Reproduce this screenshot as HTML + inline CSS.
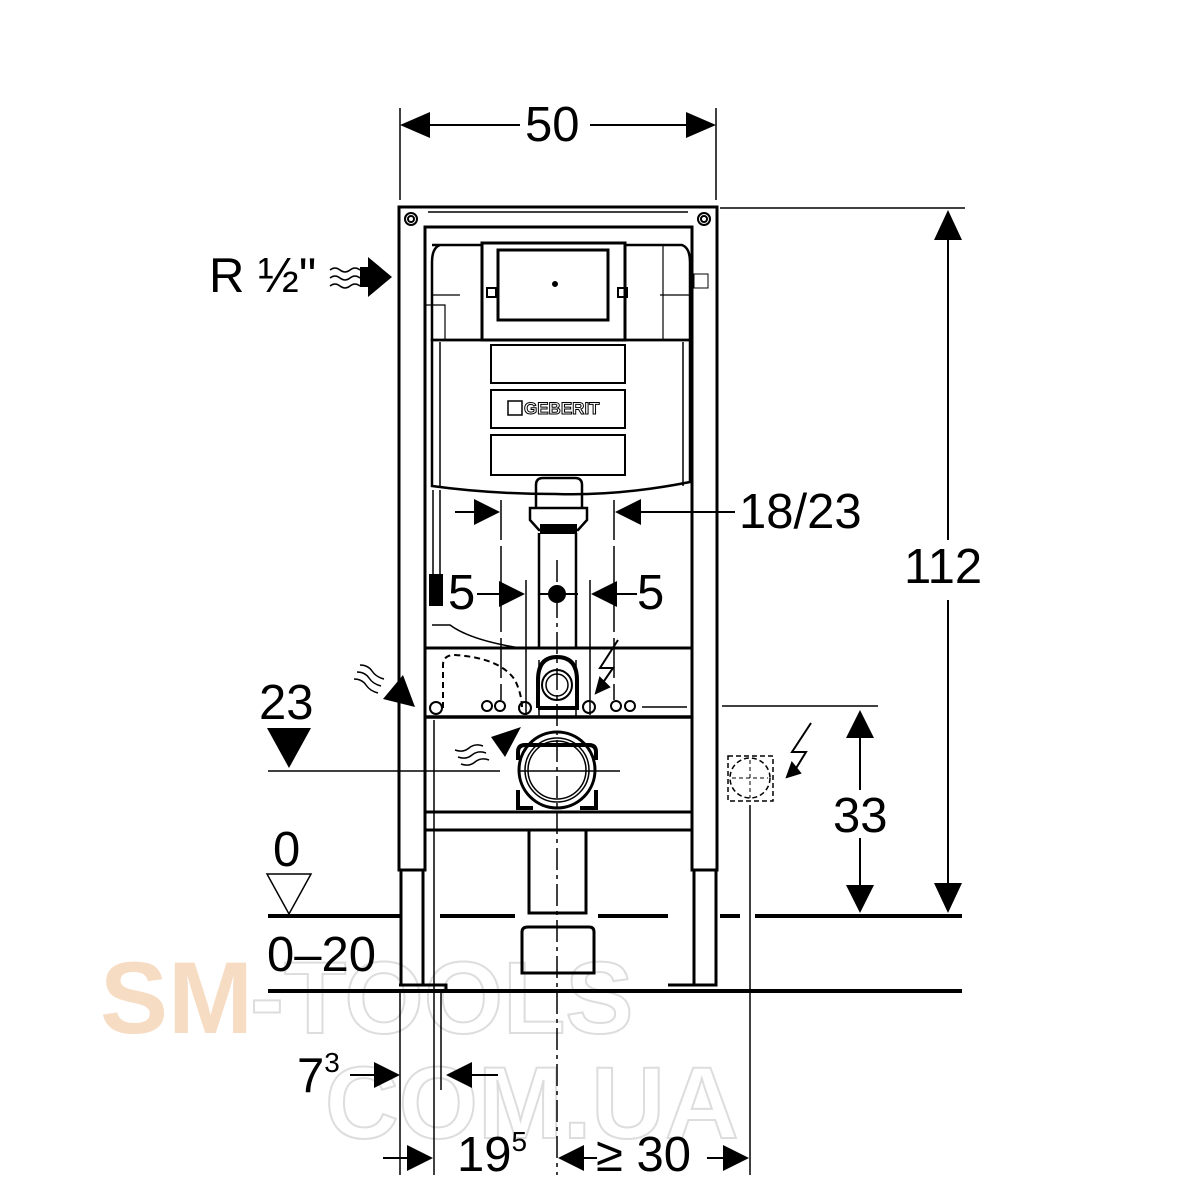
<!DOCTYPE html>
<html><head><meta charset="utf-8"><style>
html,body{margin:0;padding:0;background:#fff;width:1200px;height:1200px;overflow:hidden}
svg{display:block}
text{font-family:"Liberation Sans",Arial,sans-serif;fill:#000}
</style></head><body>
<svg width="1200" height="1200" viewBox="0 0 1200 1200" xmlns="http://www.w3.org/2000/svg">
<!-- watermark -->
<g font-size="102" font-weight="bold">
<text x="100" y="1033" style="fill:#f7dcc4">SM</text>
<text x="250" y="1033" style="fill:none;stroke:#ddd;stroke-width:2">-TOOLS</text>
<text x="325" y="1138" style="fill:none;stroke:#ddd;stroke-width:2">COM.UA</text>
</g>
<g stroke="#000" fill="none" stroke-width="2">
<line x1="400" y1="108" x2="400" y2="200" stroke-width="1.5"/>
<line x1="716" y1="108" x2="716" y2="200" stroke-width="1.5"/>
<line x1="430" y1="125" x2="520" y2="125"/><line x1="590" y1="125" x2="690" y2="125"/>
<path d="M400,125l30,-13v26z M716,125l-30,-13v26z" fill="#000" stroke="none"/>
<line x1="720" y1="208" x2="965" y2="208" stroke-width="1.5"/>
<line x1="948" y1="235" x2="948" y2="540"/><line x1="948" y1="600" x2="948" y2="890"/>
<path d="M948,210l-14,30h28z M948,913l-14,-30h28z" fill="#000" stroke="none"/>
<line x1="722" y1="706" x2="878" y2="706" stroke-width="1.5"/>
<line x1="860" y1="735" x2="860" y2="790"/><line x1="860" y1="838" x2="860" y2="890"/>
<path d="M860,710l-14,28h28z M860,913l-14,-28h28z" fill="#000" stroke="none"/>
<path d="M268,916H400 M440,916H515 M598,916H668 M720,916H740 M755,916H962" stroke-width="4"/>
<path d="M268,991H962" stroke-width="4"/>
<path d="M399,207H717V870H692V227H425V870H399Z" stroke-width="3"/>
<line x1="425" y1="227" x2="692" y2="227" stroke-width="3"/>
<line x1="428" y1="212" x2="688" y2="212" stroke-width="1.5"/>
<circle cx="411" cy="219" r="6"/><circle cx="411" cy="219" r="3"/>
<circle cx="704" cy="219" r="6"/><circle cx="704" cy="219" r="3"/>
<path d="M401,870V985H423V870 M694,870V985H716V870" stroke-width="3"/>
<path d="M399,985H446V991 M668,985H716" stroke-width="3"/>
<path d="M432,245H482V243H625V245H682Q690,248 690,262V340H432V262Q432,248 440,245Z" stroke-width="2.5"/>
<path d="M432,340H690V482Q620,496 556,494Q490,494 432,486Z" stroke-width="2.5"/>
<line x1="440" y1="342" x2="440" y2="486" stroke-width="1.5"/><line x1="683" y1="342" x2="683" y2="486" stroke-width="1.5"/>
<rect x="482" y="243" width="143" height="97" stroke-width="3"/>
<rect x="498" y="250" width="110" height="70" stroke-width="3"/>
<rect x="487" y="288" width="9" height="9"/><rect x="618" y="288" width="9" height="9"/>
<circle cx="555" cy="284" r="2" fill="#000"/>
<rect x="491" y="345" width="134" height="38" stroke-width="2"/>
<rect x="491" y="390" width="134" height="38" stroke-width="2"/>
<rect x="491" y="435" width="134" height="40" stroke-width="2"/>
<rect x="508" y="401" width="14" height="14" stroke-width="1.5"/>
<path d="M536,508V485Q536,478 543,478H575Q582,478 582,485V508 M530,508H587V520L578,530H539L530,520Z" stroke-width="2.5"/>
<rect x="541" y="525" width="35" height="8" fill="#000"/>
<path d="M539,533V648 M576,533V648" stroke-width="2.5"/>
<path d="M539,660V717 M576,660V717" stroke-width="1.5"/>
<path d="M432,295H460 M426,305H445V340 M660,295H690 M663,245V340" stroke-width="1.2"/>
<path d="M433,490V580 M440,490V580" stroke-width="1.5"/>
<path d="M430,575h12v30h-12z" fill="#000"/>
<path d="M432,625H450Q470,640 520,648" stroke-width="1.5"/>
<line x1="425" y1="648" x2="692" y2="648" stroke-width="3"/>
<line x1="425" y1="717" x2="692" y2="717" stroke-width="3.5"/>
<line x1="425" y1="812" x2="692" y2="812" stroke-width="3"/>
<line x1="425" y1="830" x2="692" y2="830" stroke-width="3"/>
<path d="M443,708V665Q443,655 455,655Q500,658 515,680Q522,695 522,708" stroke-dasharray="6,4" stroke-width="2"/>
<circle cx="436" cy="708" r="6"/><circle cx="487" cy="706" r="5"/><circle cx="500" cy="706" r="5"/>
<circle cx="525" cy="708" r="6"/><circle cx="589" cy="707" r="6"/>
<circle cx="616" cy="706" r="5"/><circle cx="630" cy="706" r="5"/>
<path d="M642,707H687" stroke-width="1.5"/>
<path d="M538,708V680Q538,657 557,657Q577,657 577,680V708H538" stroke-width="4"/>
<circle cx="557" cy="685" r="15" stroke-width="2"/><circle cx="557" cy="685" r="11" stroke-width="1.5"/>
<path d="M518,760V752Q518,745 525,745H589Q596,745 596,752V760 M518,790V808H533 M596,790V808H580" stroke-width="4"/>
<circle cx="557" cy="770" r="38" stroke-width="3"/>
<circle cx="557" cy="770" r="32" stroke-width="1.5"/><circle cx="557" cy="770" r="29" stroke-width="1.5"/>
<path d="M529,830V913H586V830" stroke-width="3"/>
<path d="M522,973V932Q522,927 528,927H589Q594,927 594,932V973Z" stroke-width="3"/>
<line x1="557" y1="560" x2="557" y2="1175" stroke-width="1.5" stroke-dasharray="22,5,4,5"/>
<line x1="434" y1="720" x2="434" y2="1175" stroke-width="1.5"/>
<line x1="750" y1="805" x2="750" y2="1175" stroke-width="1.5"/>
<line x1="441" y1="991" x2="441" y2="1090" stroke-width="1.5"/>
<line x1="400" y1="991" x2="400" y2="1175" stroke-width="1.5"/>
<line x1="501" y1="500" x2="501" y2="700" stroke-width="1.5" stroke-dasharray="40,6"/>
<line x1="614" y1="500" x2="614" y2="700" stroke-width="1.5" stroke-dasharray="40,6"/>
<line x1="526" y1="580" x2="526" y2="715" stroke-width="1.5"/>
<line x1="590" y1="580" x2="590" y2="715" stroke-width="1.5"/>
<line x1="455" y1="512" x2="475" y2="512"/><line x1="640" y1="512" x2="735" y2="512"/>
<path d="M500,512l-26,-13v26z M615,512l26,-13v26z" fill="#000" stroke="none"/>
<line x1="477" y1="594" x2="500" y2="594"/><line x1="616" y1="594" x2="637" y2="594"/>
<path d="M525,594l-26,-13v26z M591,594l26,-13v26z" fill="#000" stroke="none"/>
<line x1="538" y1="594" x2="578" y2="594"/>
<circle cx="557" cy="594" r="8" fill="#000"/>
<line x1="268" y1="771" x2="500" y2="771" stroke-width="1.5"/><line x1="520" y1="771" x2="620" y2="771" stroke-width="1.5"/>
<path d="M267,728H311L289,768Z" fill="#000" stroke="none"/>
<path d="M267,874H311L289,914Z" stroke-width="1.5"/>
<line x1="350" y1="1075" x2="380" y2="1075"/><path d="M400,1075l-26,-13v26z" fill="#000" stroke="none"/>
<line x1="470" y1="1075" x2="498" y2="1075"/><path d="M446,1075l26,-13v26z" fill="#000" stroke="none"/>
<line x1="383" y1="1158" x2="410" y2="1158"/><path d="M433,1158l-26,-13v26z" fill="#000" stroke="none"/>
<path d="M558,1158l26,-13v26z M749,1158l-26,-13v26z" fill="#000" stroke="none"/>
<line x1="584" y1="1158" x2="597" y2="1158"/><line x1="707" y1="1158" x2="724" y2="1158"/>
<rect x="728" y="756" width="45" height="45" stroke-width="1.5" stroke-dasharray="5,3"/>
<circle cx="750" cy="778" r="20" stroke-width="1.5" stroke-dasharray="5,3"/>
<path d="M750,760V798 M732,778H768" stroke-width="1" stroke-dasharray="4,3"/>
<path d="M811,723L792,752H806L795,770" stroke-width="2"/>
<path d="M787,777l5,-14l8,10z" fill="#000"/>
<path d="M618,640L600,668H613L602,684" stroke-width="2"/>
<path d="M596,693l4,-15l9,9z" fill="#000"/>
<path d="M330,270q5,-4 10,0t10,0t10,0 M330,278q5,-4 10,0t10,0t10,0 M330,286q5,-4 10,0t10,0t10,0" stroke-width="1.5"/>
<path d="M360,267h8v-10l24,20l-24,20v-10h-8z" fill="#000" stroke="none"/>
<path d="M360,665q8,0 12,6t12,8 M357,672q8,0 12,6t12,8 M354,679q8,0 12,6t12,8" stroke-width="1.5"/>
<path d="M415,707l-32,-8l20,-24z" fill="#000" stroke="none"/>
<path d="M455,750q8,3 14,-2t14,-2 M458,757q8,3 14,-2t14,-2 M461,764q8,3 14,-2t14,-2" stroke-width="1.5"/>
<path d="M521,727l-30,10l14,20z" fill="#000" stroke="none"/>
<rect x="694" y="274" width="14" height="14" stroke-width="1"/>
</g>
<g font-size="49">
<text x="525" y="141">50</text>
<text x="904" y="583">112</text>
<text x="833" y="832">33</text>
<text x="739" y="528">18/23</text>
<text x="448" y="609">5</text>
<text x="637" y="609">5</text>
<text x="209" y="292">R ½"</text>
<text x="259" y="719">23</text>
<text x="273" y="866">0</text>
<text x="267" y="971">0–20</text>
<text x="297" y="1092">7<tspan font-size="28" dy="-20">3</tspan></text>
<text x="457" y="1171">19<tspan font-size="28" dy="-20">5</tspan></text>
<text x="596" y="1171">≥ 30</text>
</g>
<text x="524" y="414" font-size="17" font-weight="bold" style="fill:#fff;stroke:#000;stroke-width:1">GEBERIT</text>
</svg>
</body></html>
